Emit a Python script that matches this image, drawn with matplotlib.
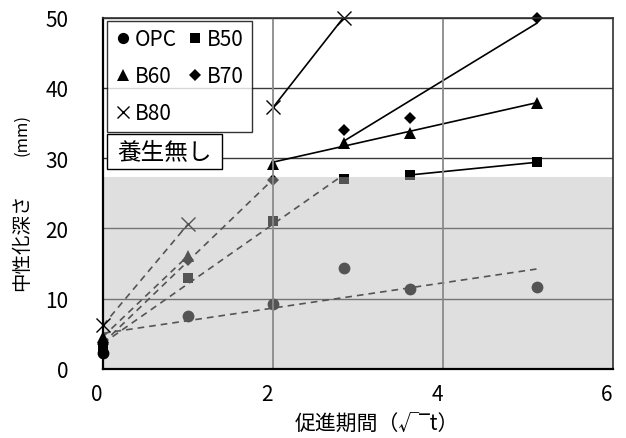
import numpy as np
import matplotlib
matplotlib.use("Agg")
import matplotlib.pyplot as plt
from matplotlib.lines import Line2D
from matplotlib.patches import Rectangle
from matplotlib.transforms import ScaledTranslation

plt.rcParams['font.family'] = ['Noto Sans CJK JP', 'DejaVu Sans']

# promotion period (sqrt of weeks)
x = [0.0, 1.0, 2.0, 2.83, 3.61, 5.10]
series_names = ["OPC", "B50", "B60", "B70", "B80"]
opc = [2.3, 7.6, 9.25, 14.4, 11.4, 11.6]
b50 = [3.0, 12.9, 21.1, 27.0, 27.6, 29.4]
b60 = [4.6, 16.1, 29.2, 32.2, 33.5, 37.9]
b70 = [3.6, 15.5, 26.9, 34.0, 35.7, 50.0]
b80 = [6.2, 20.6, 37.2, 50.0]
# number of points in the early (dashed fit) segment for each series
early_counts = [6, 4, 2, 3, 2]
shade_top = 27.3
xticks = [0, 2, 4, 6]
yticks = [0, 10, 20, 30, 40, 50]

data = [opc, b50, b60, b70, b80]
markers = ['o', 's', '^', 'D', 'x']
msizes = [8.5, 7.5, 8.5, 6.0, 9.5]

W, H = 626, 439
fig = plt.figure(figsize=(W / 100, H / 100), dpi=100)
ax = fig.add_axes([103 / W, 1 - 370 / H, 510 / W, (370 - 18.5) / H])
ax.set_xlim(0, 6)
ax.set_ylim(0, 50)

# horizontal grid
for yv in yticks[1:]:
    ax.axhline(yv, color='#3a3a3a', lw=1.0, zorder=1)
# vertical grid (drawn above overlay)
for xv in xticks[1:-1]:
    ax.axvline(xv, color='#8a8a8a', lw=1.3, zorder=3.5)

for ys, mk, ms, n in zip(data, markers, msizes, early_counts):
    xs = np.array(x[:len(ys)])
    ys = np.array(ys)
    # early segment fit (dashed)
    xe, ye = xs[:n], ys[:n]
    p = np.polyfit(xe, ye, 1)
    xl = np.array([0.0, xe[-1]])
    ax.plot(xl, np.polyval(p, xl), color='black', lw=1.2, ls=(0, (4, 3)), zorder=2)
    # late segment fit (solid)
    if len(xs) - n >= 2:
        xlt, ylt = xs[n:], ys[n:]
        p2 = np.polyfit(xlt, ylt, 1)
        xl2 = np.array([xlt[0], xlt[-1]])
        ax.plot(xl2, np.polyval(p2, xl2), color='black', lw=1.2, zorder=2)
    mew = 1.0 if mk == 'x' else 0
    ax.plot(xs[1:], ys[1:], ls='none', marker=mk, ms=ms, color='black',
            mec='black', mew=mew, zorder=2.5, clip_on=False)
    ax.plot(xs[:1], ys[:1], ls='none', marker=mk, ms=ms, color='black',
            mec='black', mew=mew, zorder=4, clip_on=False)

# semi-transparent gray overlay
ax.axhspan(0, shade_top, facecolor=(0.73, 0.73, 0.73), alpha=0.455, lw=0, zorder=3)

for s in ['left', 'bottom']:
    ax.spines[s].set_color('black')
    ax.spines[s].set_linewidth(1.6)
for s in ['right', 'top']:
    ax.spines[s].set_color('#303030')
    ax.spines[s].set_linewidth(1.2)
for s in ax.spines.values():
    s.set_zorder(5)

ax.set_xticks(xticks)
ax.set_yticks(yticks)
ax.tick_params(axis='both', length=0, labelsize=15)
ax.tick_params(axis='y', pad=25)
ax.tick_params(axis='x', pad=10)
for lab in ax.get_xticklabels():
    lab.set_transform(lab.get_transform() + ScaledTranslation(-6 / 100, 0, fig.dpi_scale_trans))

# axis labels
fig.text(377 / W, 1 - 424 / H, "促進期間（√‾t）", ha='center', va='center', fontsize=15)
fig.text(22 / W, 1 - 242 / H, "中性化深さ", rotation=90, ha='center', va='center', fontsize=14)
fig.text(22 / W, 1 - 135 / H, "(mm)", rotation=90, ha='center', va='center', fontsize=12)

# legend (row-wise order)
handles = [Line2D([], [], ls='none', marker=m, ms=s * 0.95, color='black', mec='black',
                  mew=(1.0 if m == 'x' else 0)) for m, s in zip(markers, msizes)]
order = [0, 2, 4, 1, 3]
leg = ax.legend([handles[i] for i in order], [series_names[i] for i in order],
                ncol=2, loc='upper left', bbox_to_anchor=(107 / W, 1 - 22 / H),
                bbox_transform=fig.transFigure, fontsize=15, frameon=True,
                fancybox=False, edgecolor='black', handlelength=0.8, handletextpad=0.2,
                columnspacing=0.45, labelspacing=0.72, borderpad=0.35, borderaxespad=0)
leg.get_frame().set_linewidth(1.0)
leg.set_zorder(10)

# "養生無し" box
fig.patches.append(Rectangle((107 / W, 1 - 170 / H), 115 / W, 35 / H,
                             transform=fig.transFigure, fc='white', ec='black',
                             lw=1.0, zorder=10))
fig.text(164.5 / W, 1 - 153 / H, "養生無し", ha='center', va='center', fontsize=17, zorder=11)

fig.savefig("out.png", dpi=100)
